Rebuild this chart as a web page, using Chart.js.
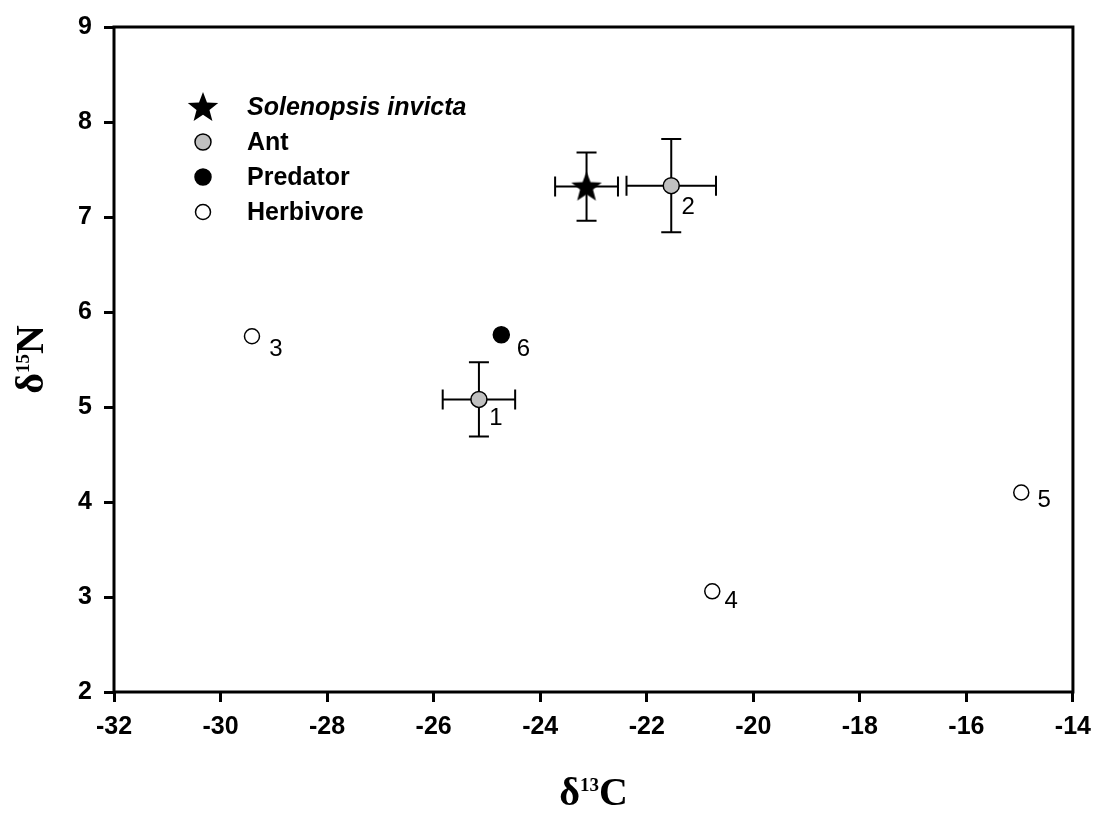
<!DOCTYPE html>
<html>
<head>
<meta charset="utf-8">
<script src="https://cdn.jsdelivr.net/npm/chart.js@4.4.1/dist/chart.umd.min.js"></script>
<style>
  body { margin: 0; background: #fff; }
  #wrap { width: 1101px; height: 821px; position: relative; }
</style>
</head>
<body>
<div id="wrap"><canvas id="isoChart"></canvas></div>
<script>
// values (d13C, d15N, +/- error)
var groupNames = ['Solenopsis invicta', 'Ant', 'Predator', 'Herbivore'];

var fireAntC = [-23.13];
var fireAntN = [7.32];
var fireAntCErr = [0.59];
var fireAntNErr = [0.36];

var antC = [-25.15, -21.54];
var antN = [5.08, 7.33];
var antCErr = [0.68, 0.84];
var antNErr = [0.39, 0.49];
var antIds = ['1', '2'];

var predatorC = [-24.73];
var predatorN = [5.76];
var predatorIds = ['6'];

var herbivoreC = [-29.41, -20.77, -14.97];
var herbivoreN = [5.745, 3.06, 4.10];
var herbivoreIds = ['3', '4', '5'];

var xTicks = [-32, -30, -28, -26, -24, -22, -20, -18, -16, -14];
var yTicks = [2, 3, 4, 5, 6, 7, 8, 9];

// where the little id numbers sit next to each point (pixels)
var antIdShift = [[17, 19], [17, 22]];
var predatorIdShift = [[22, 15]];
var herbivoreIdShift = [[24, 13], [19, 10], [23, 8]];

function toPoints(xs, ys) {
    return xs.map(function (x, i) { return { x: x, y: ys[i] }; });
}

// filled five point star used as marker
var star = document.createElement('canvas');
star.width = 34; star.height = 34;
(function () {
    var c = star.getContext('2d');
    c.beginPath();
    for (var i = 0; i < 10; i++) {
        var r = i % 2 === 0 ? 16 : 6.8;
        var a = -Math.PI / 2 + i * Math.PI / 5;
        var px = 17 + r * Math.cos(a), py = 18 + r * Math.sin(a);
        if (i === 0) c.moveTo(px, py); else c.lineTo(px, py);
    }
    c.closePath();
    c.fillStyle = '#000';
    c.fill();
})();

var datasets = [{
    label: groupNames[0],
    data: toPoints(fireAntC, fireAntN),
    xErr: fireAntCErr, yErr: fireAntNErr,
    pointStyle: star, pointRadius: 16,
    backgroundColor: '#000', borderColor: '#000'
}, {
    label: groupNames[1],
    data: toPoints(antC, antN),
    xErr: antCErr, yErr: antNErr, ids: antIds, idShift: antIdShift,
    pointStyle: 'circle', pointRadius: 8, borderWidth: 1.5,
    backgroundColor: '#c0c0c0', borderColor: '#000'
}, {
    label: groupNames[2],
    data: toPoints(predatorC, predatorN),
    ids: predatorIds, idShift: predatorIdShift,
    pointStyle: 'circle', pointRadius: 8, borderWidth: 1.5,
    backgroundColor: '#000', borderColor: '#000'
}, {
    label: groupNames[3],
    data: toPoints(herbivoreC, herbivoreN),
    ids: herbivoreIds, idShift: herbivoreIdShift,
    pointStyle: 'circle', pointRadius: 7.5, borderWidth: 1.5,
    backgroundColor: '#fff', borderColor: '#000'
}];

// error bars, drawn under the markers
var errorBars = {
    id: 'errorBars',
    beforeDatasetsDraw: function (chart) {
        var ctx = chart.ctx, xs = chart.scales.x, ys = chart.scales.y;
        ctx.save();
        ctx.strokeStyle = '#000';
        ctx.lineWidth = 2;
        chart.data.datasets.forEach(function (ds) {
            if (!ds.xErr) return;
            ds.data.forEach(function (p, i) {
                var cx = xs.getPixelForValue(p.x), cy = ys.getPixelForValue(p.y);
                var x0 = xs.getPixelForValue(p.x - ds.xErr[i]), x1 = xs.getPixelForValue(p.x + ds.xErr[i]);
                var y0 = ys.getPixelForValue(p.y + ds.yErr[i]), y1 = ys.getPixelForValue(p.y - ds.yErr[i]);
                ctx.beginPath();
                ctx.moveTo(x0, cy); ctx.lineTo(x1, cy);
                ctx.moveTo(x0, cy - 10); ctx.lineTo(x0, cy + 10);
                ctx.moveTo(x1, cy - 10); ctx.lineTo(x1, cy + 10);
                ctx.moveTo(cx, y0); ctx.lineTo(cx, y1);
                ctx.moveTo(cx - 10, y0); ctx.lineTo(cx + 10, y0);
                ctx.moveTo(cx - 10, y1); ctx.lineTo(cx + 10, y1);
                ctx.stroke();
            });
        });
        ctx.restore();
    }
};

// frame, point ids, legend and axis titles
var decorations = {
    id: 'decorations',
    afterDraw: function (chart) {
        var ctx = chart.ctx, a = chart.chartArea, xs = chart.scales.x, ys = chart.scales.y;
        ctx.save();
        ctx.strokeStyle = '#000';
        ctx.lineWidth = 3;
        ctx.strokeRect(a.left, a.top, a.right - a.left, a.bottom - a.top);

        // point ids
        ctx.fillStyle = '#000';
        ctx.font = '24px "Liberation Sans", Arial, sans-serif';
        ctx.textAlign = 'center';
        ctx.textBaseline = 'middle';
        chart.data.datasets.forEach(function (ds) {
            if (!ds.ids) return;
            ds.data.forEach(function (p, i) {
                ctx.fillText(ds.ids[i], xs.getPixelForValue(p.x) + ds.idShift[i][0],
                    ys.getPixelForValue(p.y) + ds.idShift[i][1]);
            });
        });

        // legend
        var lx = a.left + 89, ly = a.top + 80;
        ctx.textAlign = 'left';
        chart.data.datasets.forEach(function (ds, i) {
            var y = ly + i * 35;
            if (ds.pointStyle === star) {
                ctx.drawImage(star, lx - 17, y - 17);
            } else {
                ctx.beginPath();
                ctx.arc(lx, y, ds.pointRadius, 0, Math.PI * 2);
                ctx.fillStyle = ds.backgroundColor;
                ctx.fill();
                ctx.lineWidth = ds.borderWidth;
                ctx.stroke();
            }
            ctx.fillStyle = '#000';
            ctx.font = (i === 0 ? 'italic ' : '') + 'bold 25px "Liberation Sans", Arial, sans-serif';
            ctx.fillText(ds.label, lx + 44, y + 1);
        });

        // axis titles with superscripts
        function titled(base, sup, tail, cx, cy) {
            var big = 'bold 40px "Liberation Serif", "Times New Roman", serif';
            var small = 'bold 19px "Liberation Serif", "Times New Roman", serif';
            ctx.font = big; var w1 = ctx.measureText(base).width, w3 = ctx.measureText(tail).width;
            ctx.font = small; var w2 = ctx.measureText(sup).width;
            var x = cx - (w1 + w2 + w3) / 2;
            ctx.textAlign = 'left';
            ctx.textBaseline = 'alphabetic';
            ctx.font = big; ctx.fillText(base, x, cy);
            ctx.font = small; ctx.fillText(sup, x + w1, cy - 14);
            ctx.font = big; ctx.fillText(tail, x + w1 + w2, cy);
        }
        titled('δ', '13', 'C', (a.left + a.right) / 2, 805);
        ctx.save();
        ctx.translate(43, (a.top + a.bottom) / 2);
        ctx.rotate(-Math.PI / 2);
        titled('δ', '15', 'N', 0, 0);
        ctx.restore();
        ctx.restore();
    }
};

var tickFont = { family: '"Liberation Sans", Arial, sans-serif', size: 25, weight: 'bold' };

var ctx = document.getElementById('isoChart').getContext('2d');
var isoChart = new Chart(ctx, {
    type: 'scatter',
    data: { datasets: datasets },
    options: {
        responsive: true,
        maintainAspectRatio: false,
        animation: false,
        layout: { padding: { top: 20, right: 27.5, left: 0, bottom: 0 } },
        plugins: { legend: { display: false }, tooltip: { enabled: false } },
        scales: {
            x: {
                type: 'linear', min: -32, max: -14,
                afterBuildTicks: function (s) { s.ticks = xTicks.map(function (v) { return { value: v }; }); },
                afterFit: function (s) { s.height = 129; },
                grid: { drawOnChartArea: false, drawTicks: true, tickLength: 10, tickWidth: 3, tickColor: '#000' },
                border: { display: false },
                ticks: { color: '#000', font: tickFont, padding: 10, maxRotation: 0 }
            },
            y: {
                type: 'linear', min: 2, max: 9,
                afterBuildTicks: function (s) { s.ticks = yTicks.map(function (v) { return { value: v }; }); },
                afterFit: function (s) { s.width = 114; },
                grid: { drawOnChartArea: false, drawTicks: true, tickLength: 10, tickWidth: 3, tickColor: '#000' },
                border: { display: false },
                ticks: { color: '#000', font: tickFont, padding: 12 }
            }
        }
    },
    plugins: [errorBars, decorations]
});
</script>
</body>
</html>
